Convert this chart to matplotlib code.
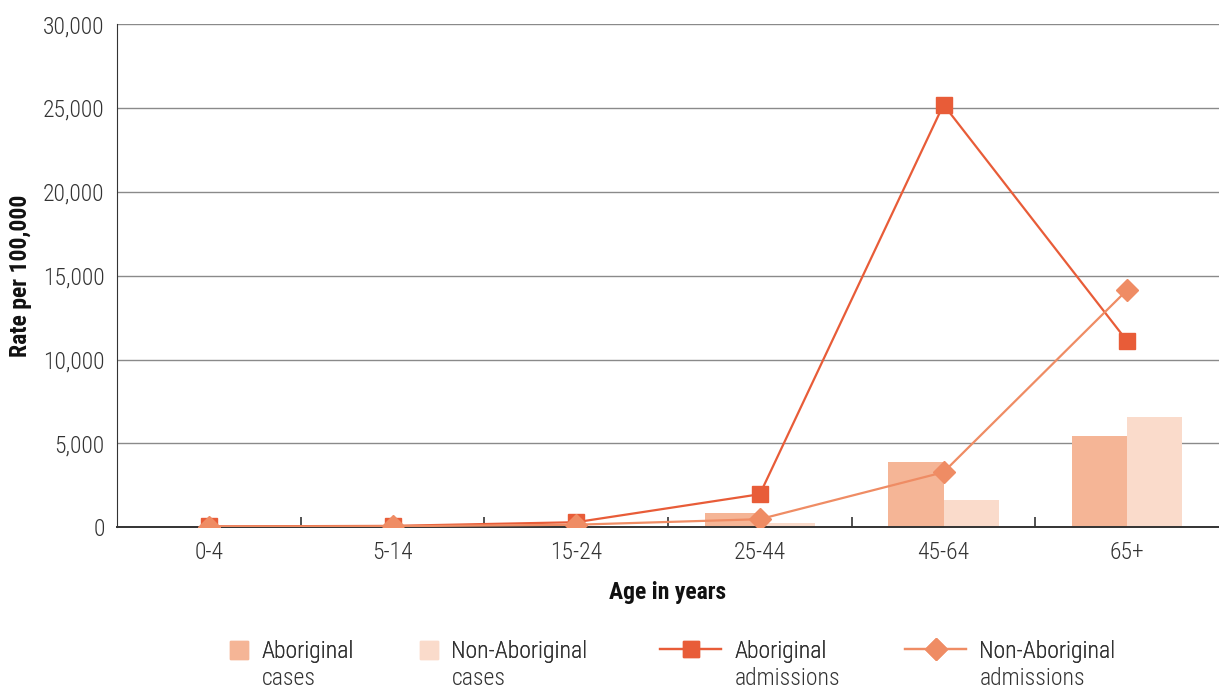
import matplotlib
matplotlib.use("Agg")
import matplotlib.pyplot as plt
import numpy as np
from matplotlib.lines import Line2D
from matplotlib.patches import Patch

plt.rcParams['font.family'] = ['Roboto Condensed', 'DejaVu Sans']

categories = ["0-4", "5-14", "15-24", "25-44", "45-64", "65+"]
aboriginal_cases = [30, 60, 120, 840, 3880, 5430]
non_aboriginal_cases = [10, 30, 90, 250, 1610, 6560]
aboriginal_admissions = [50, 80, 300, 1970, 25200, 11100]
non_aboriginal_admissions = [30, 60, 150, 480, 3280, 14150]
yticks = [0, 5000, 10000, 15000, 20000, 25000, 30000]
legend_first = ["Aboriginal", "Non-Aboriginal", "Aboriginal", "Non-Aboriginal"]
legend_second = ["cases", "cases", "admissions", "admissions"]

c_ab_cases = "#F5B596"
c_non_cases = "#FADBCB"
c_ab_adm = "#E85C38"
c_non_adm = "#EF8C64"
txt = "#333333"
FS = 17

fig = plt.figure(figsize=(12.19, 6.91), dpi=100)
ax = fig.add_axes([0.096, 0.237, 0.904, 0.728])

x = np.arange(len(categories))
w = 0.30
ax.bar(x - w/2, aboriginal_cases, width=w, color=c_ab_cases, zorder=2)
ax.bar(x + w/2, non_aboriginal_cases, width=w, color=c_non_cases, zorder=2)
ax.plot(x, aboriginal_admissions, color=c_ab_adm, marker='s', markersize=11.5, lw=1.6, zorder=4)
ax.plot(x, non_aboriginal_admissions, color=c_non_adm, marker='D', markersize=11, lw=1.6, zorder=5)

ax.set_xlim(-0.5, 5.5)
ax.set_ylim(0, 30000)
ax.set_yticks(yticks)
ax.set_yticklabels([f"{v:,}" for v in yticks], fontsize=FS, color=txt, fontweight=300)
ax.yaxis.grid(True, color="#8a8a8a", lw=1.0, zorder=0)
ax.set_axisbelow(True)
ax.tick_params(axis='y', length=0, pad=9)

ax.set_xticks(x)
ax.set_xticklabels(categories, fontsize=FS, color=txt, fontweight=300)
ax.set_xticks(np.arange(0.5, 5.5, 1.0), minor=True)
ax.tick_params(axis='x', which='major', length=0, pad=10)
ax.tick_params(axis='x', which='minor', length=7, direction='in', color="#333333", width=1.2)

for s in ['top', 'right']:
    ax.spines[s].set_visible(False)
ax.spines['left'].set_color("#333333")
ax.spines['bottom'].set_color("#333333")
ax.spines['bottom'].set_linewidth(1.4)

ax.set_xlabel("Age in years", fontsize=FS, fontweight='bold', color="#111111", labelpad=12)
ax.set_ylabel("Rate per 100,000", fontsize=FS, fontweight='bold', color="#111111", labelpad=8)

handles = [
    Patch(color=c_ab_cases),
    Patch(color=c_non_cases),
    Line2D([0], [0], color=c_ab_adm, marker='s', markersize=11.5, lw=1.6),
    Line2D([0], [0], color=c_non_adm, marker='D', markersize=11, lw=1.6),
]
xpos = [230, 420, 660, 905]
hl = [0.78, 0.78, 2.6, 2.6]
legs = []
for h, lab, xp, l in zip(handles, legend_first, xpos, hl):
    lg = fig.legend([h], [lab], loc='upper left', bbox_to_anchor=(xp / 1219, 1 - 640 / 691),
                    frameon=False, handlelength=l, handleheight=0.78,
                    handletextpad=0.55, borderpad=0, borderaxespad=0, labelcolor=txt,
                    prop={'weight': 300, 'size': FS})
    fig.add_artist(lg)
    legs.append(lg)

fig.canvas.draw()
r = fig.canvas.get_renderer()
for lg, sec in zip(legs, legend_second):
    t = lg.get_texts()[0]
    bb = t.get_window_extent(r)
    fig.text(bb.x0 / fig.bbox.width, (bb.y0 - 27) / fig.bbox.height, sec,
             fontsize=FS, fontweight=300, color=txt, ha='left', va='bottom')

fig.savefig("out.png", dpi=100)
